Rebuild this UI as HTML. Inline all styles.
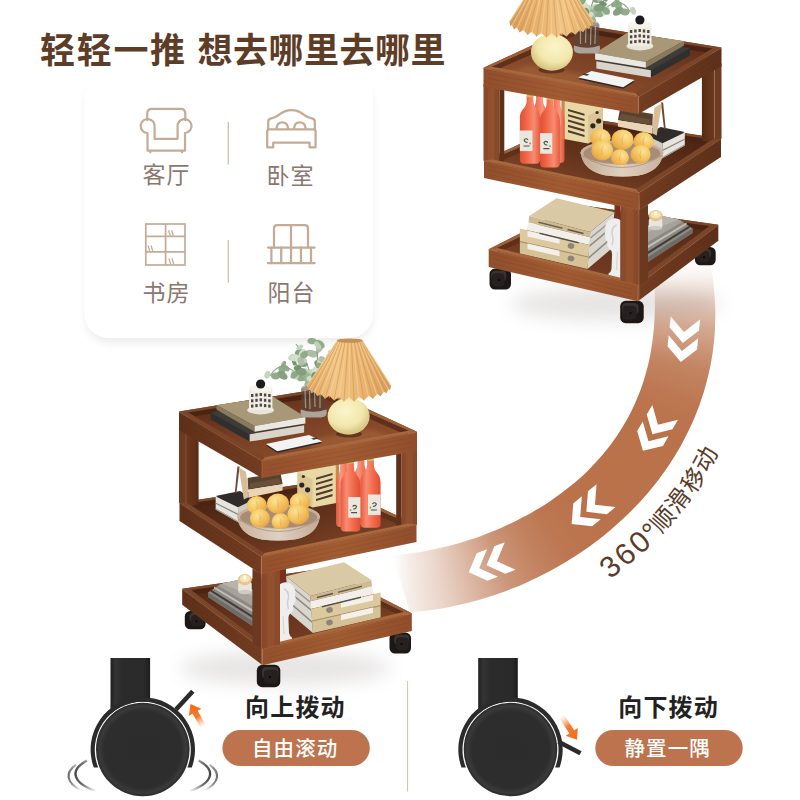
<!DOCTYPE html>
<html><head><meta charset="utf-8"><title>product</title>
<style>
html,body{margin:0;padding:0;background:#fff;font-family:"Liberation Sans",sans-serif;}
body{width:800px;height:800px;overflow:hidden;position:relative;}
#band{position:absolute;left:0;top:0;width:800px;height:800px;background:conic-gradient(from 0deg at 400px 300px, rgba(186,114,75,0) 0deg, rgba(186,114,75,0.000) 81.5deg, rgba(186,114,75,0.070) 85.0deg, rgba(186,114,75,0.200) 88.0deg, rgba(186,114,75,0.620) 95.4deg, rgba(186,114,75,0.870) 102.8deg, rgba(186,114,75,0.970) 110.1deg, rgba(186,114,75,1.000) 116.1deg, rgba(186,114,75,1.000) 139.2deg, rgba(186,114,75,0.970) 146.3deg, rgba(186,114,75,0.880) 152.7deg, rgba(186,114,75,0.750) 159.0deg, rgba(186,114,75,0.520) 165.5deg, rgba(186,114,75,0.300) 171.9deg, rgba(186,114,75,0.130) 178.0deg, rgba(186,114,75,0.000) 181.4deg, rgba(186,114,75,0) 360deg);clip-path:path('M653.2 258.1 C653.3 260.0 653.6 265.8 653.9 269.7 C654.1 273.5 654.3 277.4 654.4 281.2 C654.6 285.1 654.7 288.9 654.8 292.8 C654.9 296.6 654.9 300.5 654.9 304.3 C654.9 308.2 654.8 312.0 654.6 315.9 C654.4 319.7 654.2 323.6 653.9 327.4 C653.6 331.3 653.2 335.1 652.7 338.9 C652.2 342.8 651.7 346.6 651.0 350.4 C650.4 354.2 649.6 358.0 648.8 361.8 C647.9 365.6 647.0 369.3 645.9 373.0 C644.9 376.8 643.8 380.5 642.5 384.2 C641.3 387.8 640.0 391.5 638.5 395.1 C637.1 398.7 635.6 402.2 633.9 405.8 C632.3 409.3 630.6 412.7 628.8 416.2 C626.9 419.6 625.0 423.0 623.0 426.3 C621.0 429.6 618.9 432.8 616.8 436.0 C614.6 439.2 612.3 442.4 610.0 445.5 C607.7 448.5 605.3 451.5 602.8 454.5 C600.3 457.4 597.7 460.3 595.1 463.1 C592.5 465.9 589.8 468.7 587.1 471.4 C584.3 474.0 581.5 476.6 578.6 479.2 C575.8 481.7 572.8 484.2 569.9 486.6 C566.9 489.0 563.9 491.3 560.8 493.6 C557.8 495.8 554.7 498.0 551.5 500.2 C548.4 502.3 545.2 504.4 542.0 506.4 C538.8 508.4 535.5 510.3 532.3 512.2 C529.0 514.1 525.7 515.9 522.3 517.6 C519.0 519.4 515.6 521.1 512.2 522.7 C508.9 524.3 505.4 525.9 502.0 527.4 C498.5 529.0 495.1 530.4 491.6 531.8 C488.1 533.2 484.6 534.6 481.1 535.9 C477.5 537.2 474.0 538.4 470.4 539.6 C466.8 540.8 463.2 541.9 459.6 543.0 C455.9 544.0 452.3 545.0 448.6 546.0 C444.9 546.9 441.2 547.8 437.5 548.6 C433.8 549.4 430.1 550.2 426.3 550.9 C422.6 551.6 418.8 552.2 415.0 552.7 C411.2 553.2 407.4 553.7 403.5 554.0 C399.7 554.4 393.9 554.7 392.0 554.9 L410.0 612.0 C412.2 611.8 418.9 611.4 423.3 610.9 C427.8 610.4 432.2 609.9 436.6 609.2 C441.0 608.5 445.4 607.8 449.8 606.9 C454.1 606.1 458.5 605.2 462.8 604.1 C467.1 603.1 471.4 602.0 475.7 600.8 C480.0 599.7 484.2 598.4 488.5 597.0 C492.7 595.7 496.9 594.3 501.1 592.8 C505.2 591.3 509.4 589.7 513.5 588.0 C517.6 586.4 521.7 584.7 525.7 582.9 C529.8 581.1 533.8 579.2 537.8 577.3 C541.7 575.3 545.7 573.3 549.6 571.2 C553.5 569.1 557.4 566.9 561.2 564.7 C565.0 562.5 568.8 560.2 572.6 557.8 C576.3 555.4 580.0 553.0 583.7 550.5 C587.3 547.9 591.0 545.3 594.5 542.7 C598.1 540.0 601.6 537.3 605.1 534.5 C608.5 531.7 612.0 528.8 615.3 525.8 C618.7 522.9 622.0 519.9 625.2 516.8 C628.5 513.7 631.6 510.6 634.8 507.3 C637.9 504.1 640.9 500.8 643.9 497.4 C646.9 494.1 649.8 490.6 652.6 487.2 C655.5 483.7 658.2 480.1 660.9 476.5 C663.6 472.8 666.2 469.1 668.7 465.4 C671.2 461.6 673.7 457.8 676.0 454.0 C678.3 450.1 680.6 446.2 682.7 442.2 C684.9 438.2 687.0 434.2 688.9 430.1 C690.9 426.0 692.7 421.8 694.5 417.7 C696.3 413.5 697.9 409.2 699.5 405.0 C701.0 400.7 702.4 396.4 703.8 392.1 C705.1 387.7 706.3 383.3 707.4 378.9 C708.5 374.5 709.5 370.1 710.4 365.7 C711.3 361.2 712.0 356.7 712.7 352.2 C713.3 347.7 713.8 343.2 714.3 338.7 C714.7 334.2 714.9 329.7 715.1 325.2 C715.3 320.6 715.3 316.1 715.3 311.6 C715.2 307.1 715.0 302.6 714.7 298.1 C714.4 293.6 714.0 289.1 713.5 284.6 C713.0 280.1 712.4 275.7 711.6 271.3 C710.9 266.8 709.5 260.3 709.1 258.1 Z');}
svg{display:block;position:absolute;left:0;top:0;}
svg text{font-family:"Liberation Sans","Noto Sans CJK SC",sans-serif;}
.sr{position:absolute;left:0;top:0;width:1px;height:1px;overflow:hidden;opacity:0;font-size:1px;line-height:1px;color:transparent;}
</style></head><body>
<div id="band"></div>
<div class="sr">
<h1>轻轻一推 想去哪里去哪里</h1>
<ul><li>客厅</li><li>卧室</li><li>书房</li><li>阳台</li></ul>
<p>360°顺滑移动</p>
<p>向上拨动 — 自由滚动</p>
<p>向下拨动 — 静置一隅</p>
</div>
<svg width="800" height="800" viewBox="0 0 800 800">
<defs>
<filter id="cardsh" x="-20%" y="-20%" width="140%" height="140%"><feGaussianBlur stdDeviation="5"/></filter>
<linearGradient id="wfl" x1="0" y1="0" x2="1" y2="0"><stop offset="0" stop-color="#5e3019"/><stop offset="1" stop-color="#743d22"/></linearGradient>
<linearGradient id="wfr" x1="0" y1="0" x2="1" y2="0"><stop offset="0" stop-color="#94502c"/><stop offset="0.5" stop-color="#a15c33"/><stop offset="1" stop-color="#914e2c"/></linearGradient>
<linearGradient id="wfloor" x1="0" y1="0" x2="1" y2="1"><stop offset="0" stop-color="#512714"/><stop offset="0.45" stop-color="#7a4024"/><stop offset="1" stop-color="#9c5a33"/></linearGradient>
<linearGradient id="wfloorm" x1="0" y1="0" x2="1" y2="1"><stop offset="0" stop-color="#43200f"/><stop offset="0.5" stop-color="#63321b"/><stop offset="1" stop-color="#8a4f2e"/></linearGradient>
<linearGradient id="wfloor2" x1="0" y1="0" x2="1" y2="1"><stop offset="0" stop-color="#4f2814"/><stop offset="0.6" stop-color="#6d381f"/><stop offset="1" stop-color="#84492a"/></linearGradient>
<linearGradient id="wlegr" x1="0" y1="0" x2="1" y2="0"><stop offset="0" stop-color="#834528"/><stop offset="0.5" stop-color="#965430"/><stop offset="1" stop-color="#874829"/></linearGradient>
<linearGradient id="wlegl" x1="0" y1="0" x2="1" y2="0"><stop offset="0" stop-color="#6a381f"/><stop offset="0.6" stop-color="#633319"/><stop offset="1" stop-color="#562b15"/></linearGradient>
<linearGradient id="shade" x1="0" y1="0" x2="1" y2="0"><stop offset="0" stop-color="#e0a660"/><stop offset="0.35" stop-color="#f2c585"/><stop offset="0.7" stop-color="#e8b16c"/><stop offset="1" stop-color="#d39a56"/></linearGradient>
<radialGradient id="lampb" cx="0.42" cy="0.35" r="0.7"><stop offset="0" stop-color="#fbf5cc"/><stop offset="0.6" stop-color="#f2e7ab"/><stop offset="1" stop-color="#cfbb78"/></radialGradient>
<radialGradient id="fruit" cx="0.4" cy="0.35" r="0.75"><stop offset="0" stop-color="#fbe59a"/><stop offset="0.55" stop-color="#f5c65e"/><stop offset="1" stop-color="#e09a38"/></radialGradient>
<linearGradient id="bottle" x1="0" y1="0" x2="1" y2="0"><stop offset="0" stop-color="#e85a3c"/><stop offset="0.3" stop-color="#f88c72"/><stop offset="0.65" stop-color="#f2694a"/><stop offset="1" stop-color="#df4f33"/></linearGradient>
<linearGradient id="bowlg" x1="0" y1="0" x2="1" y2="0"><stop offset="0" stop-color="#c9b39e"/><stop offset="0.5" stop-color="#dfd0c0"/><stop offset="1" stop-color="#c3ab95"/></linearGradient>
<filter id="blur2" x="-30%" y="-30%" width="160%" height="160%"><feGaussianBlur stdDeviation="2"/></filter>
<filter id="blur4" x="-30%" y="-30%" width="160%" height="160%"><feGaussianBlur stdDeviation="4"/></filter>
<filter id="blur8" x="-50%" y="-50%" width="200%" height="200%"><feGaussianBlur stdDeviation="9"/></filter>
<g id="shelf">
<ellipse cx="285" cy="668" rx="105" ry="17" fill="#8a7f7a" opacity="0.2" filter="url(#blur8)"/>
<rect x="184.8" y="611.0" width="20.8" height="18.3" rx="5.5" fill="#1d1816"/>
<rect x="189.4" y="612.8" width="14.6" height="9.1" rx="4.0" fill="#3a3431"/>
<rect x="191.0" y="615.0" width="12.5" height="11.3" rx="4.0" fill="#262120"/>
<circle cx="196.4" cy="621.1" r="1.2" fill="#0c0a09"/>
<rect x="389.5" y="632.6" width="21.5" height="20.9" rx="5.5" fill="#1d1816"/>
<rect x="394.2" y="634.7" width="15.0" height="10.4" rx="4.0" fill="#3a3431"/>
<rect x="395.9" y="637.2" width="12.9" height="13.0" rx="4.0" fill="#262120"/>
<circle cx="401.5" cy="644.1" r="1.2" fill="#0c0a09"/>
<path d="M182.2 588.7 L324.0 568.5 L411.8 613.3 L262.4 648.6 Z" fill="#8a5131"/>
<path d="M182.2 588.7 L324.0 568.5 L321.1 571.9 L190.9 589.9 Z" fill="#7d4629"/>
<path d="M324.0 568.5 L411.8 613.3 L403.1 612.1 L321.1 571.9 Z" fill="#9c5f39"/>
<path d="M190.9 589.9 L321.1 571.9 L403.1 612.1 L265.2 645.2 Z" fill="#4a2413"/>
<path d="M321.1 571.9 L403.1 612.1 L403.1 617.1 L321.1 576.9 Z" fill="#5e301a"/>
<path d="M190.9 594.9 L321.1 576.9 L403.1 617.1 L265.2 650.2 Z" fill="url(#wfloor2)"/>
<path d="M219.5 584.5 L240.0 579.5 L252.5 590.0 L252.5 626.0 L208.0 597.0 L208.0 592.5 Z" fill="#8c8983"/>
<path d="M208.0 592.5 L252.5 621.0 L252.5 626.0 L208.0 597.0 Z" fill="#6f6c67"/>
<path d="M210.5 589.2 L252.5 615.5 L252.5 618.0 L210.5 591.5 Z" fill="#3f3e3c"/>
<path d="M214.0 586.5 L252.5 609.5 L252.5 612.0 L214.0 588.6 Z" fill="#c4bfb6"/>
<path d="M219.5 584.5 L240.0 579.5 L252.5 590.0 L252.5 606.0 L219.5 586.5 Z" fill="#a7a39b"/>
<path d="M222.0 583.6 L240.0 579.5 L252.5 590.0 L252.5 596.0 Z" fill="#b9b4aa"/>
<rect x="238.2" y="582" width="13.6" height="10.5" rx="2" fill="#e9e6e0"/>
<ellipse cx="245" cy="592" rx="6.8" ry="2.2" fill="#cfcac2"/>
<ellipse cx="244.8" cy="579.6" rx="7" ry="5.6" fill="#e8c58a"/>
<ellipse cx="244.8" cy="578.6" rx="5.2" ry="3.6" fill="#f7e2b4"/>
<ellipse cx="244.8" cy="577.6" rx="1.6" ry="2.4" fill="#fffbe8"/>
<path d="M280.0 556.0 L286.0 556.0 L286.0 588.0 L280.0 588.0 Z" fill="#7a2f1c"/>
<path d="M286.0 576.3 L310.3 596.0 L313.0 633.0 L290.0 613.5 Z" fill="#d9d6cf"/>
<path d="M286.0 581.5 L310.3 601.3 L310.3 603.0 L286.0 583.2 Z" fill="#9c978d"/>
<path d="M287.5 589.5 L311.0 609.0 L311.0 611.0 L287.5 591.5 Z" fill="#8f8a80"/>
<path d="M289.0 601.0 L312.0 621.0 L312.0 623.0 L289.0 603.0 Z" fill="#8f8a80"/>
<path d="M286.0 576.3 L344.0 562.2 L371.3 580.0 L310.3 596.0 Z" fill="#d9c9a5"/>
<path d="M310.3 596.0 L371.3 580.0 L372.0 586.5 L310.3 601.3 Z" fill="#cdbb94"/>
<path d="M310.3 601.3 L372.0 586.5 L374.0 594.0 L311.0 609.0 Z" fill="#f1efe8"/>
<path d="M311.0 609.0 L374.0 594.0 L380.6 592.5 L380.6 605.5 L312.0 621.0 Z" fill="#dcc9a0"/>
<path d="M312.0 621.0 L380.6 605.5 L380.6 617.5 L313.0 633.0 Z" fill="#d6c298"/>
<path d="M312.0 620.4 L380.6 605.0 L380.6 606.2 L312.0 621.6 Z" fill="#a8956c"/>
<path d="M341.0 602.3 L373.0 595.0 L373.0 600.5 L341.0 607.8 Z" fill="#f4f1ea"/>
<path d="M341.0 614.8 L373.0 607.5 L373.0 613.0 L341.0 620.3 Z" fill="#f4f1ea"/>
<ellipse cx="329.5" cy="610" rx="3.4" ry="2.8" fill="#8d8678" transform="rotate(-13 329.5 610)"/>
<ellipse cx="329.5" cy="622.5" rx="3.4" ry="2.8" fill="#8d8678" transform="rotate(-13 329.5 622.5)"/>
<path d="M317.0 596.8 L333.0 592.8 L333.0 594.2 L317.0 598.2 Z" fill="#5b5140"/>
<path d="M338.0 591.6 L362.0 585.6 L362.0 587.0 L338.0 593.0 Z" fill="#6b6150"/>
<path d="M322.0 606.0 L361.0 596.6 L361.0 598.0 L322.0 607.4 Z" fill="#55504a"/>
<path d="M280 584 Q286 580.5 291 584 Q296.5 588 295 595 Q297 601 293 606 Q294.5 611 290.5 613.5 Q288 615 288.5 620 L289 633 Q289.5 636 292 637.5 L292 641 L280 643.5 Z" fill="#eeeeee"/>
<path d="M284 589 Q289 591 288.5 598 Q286.5 603 288.5 609" stroke="#cfcfcf" stroke-width="1.4" fill="none"/>
<path d="M283 616 L284 634" stroke="#d6d6d6" stroke-width="1.2" fill="none"/>
<rect x="256.8" y="664.8" width="23.5" height="22.4" rx="5.5" fill="#1d1816"/>
<rect x="262.0" y="667.0" width="16.4" height="11.2" rx="4.0" fill="#3a3431"/>
<rect x="263.9" y="669.7" width="14.1" height="13.9" rx="4.0" fill="#262120"/>
<circle cx="270.0" cy="677.1" r="1.2" fill="#0c0a09"/>
<path d="M182.2 588.7 L190.9 589.9 L265.2 645.2 L262.4 648.6 Z" fill="#7a4528"/>
<path d="M262.4 648.6 L265.2 645.2 L403.1 612.1 L411.8 613.3 Z" fill="#a8683e"/>
<path d="M182.2 588.7 L262.4 648.6 L262.6 665.2 L182.2 604.8 Z" fill="url(#wfl)"/>
<path d="M262.4 648.6 L411.8 613.3 L411.8 631.0 L262.6 665.2 Z" fill="url(#wfr)"/>
<path d="M182.2 589.1 L262.4 649.0 L411.8 613.7" stroke="#b07a52" stroke-width="0.8" fill="none" opacity="0.45"/>
<path d="M262.4 648.6 L262.6 665.2" stroke="#b67a50" stroke-width="0.8" fill="none" opacity="0.6"/>
<path d="M268.5 653.6 L406.8 618.6" stroke="#5a2c15" stroke-width="0.9" opacity="0.13" fill="none"/>
<path d="M185.2 593.5 L259.5 653.6" stroke="#4a2410" stroke-width="0.9" opacity="0.13" fill="none"/>
<path d="M268.5 657.7 L406.8 623.0" stroke="#5a2c15" stroke-width="0.9" opacity="0.16" fill="none"/>
<path d="M185.2 597.6 L259.5 657.7" stroke="#4a2410" stroke-width="0.9" opacity="0.16" fill="none"/>
<path d="M268.6 661.9 L406.8 627.5" stroke="#5a2c15" stroke-width="0.9" opacity="0.12" fill="none"/>
<path d="M185.2 601.6 L259.6 661.9" stroke="#4a2410" stroke-width="0.9" opacity="0.12" fill="none"/>
<path d="M252.5 568.6 L261.6 573.7 L261.6 648.9 L252.5 643.0 Z" fill="#6b3820"/>
<path d="M261.6 573.7 L280.0 569.8 L280.0 644.6 L261.6 648.9 Z" fill="url(#wlegr)"/>
<path d="M261.0 574.2 L262.2 574.2 L262.2 665.2 L261.0 665.2 Z" fill="#b0724a" opacity="0.55"/>
<path d="M266.0 576.2 L266.0 644.6" stroke="#5a2c15" stroke-width="0.9" opacity="0.13"/>
<path d="M271.0 576.2 L271.0 644.6" stroke="#5a2c15" stroke-width="0.9" opacity="0.10"/>
<path d="M275.5 576.2 L275.5 644.6" stroke="#5a2c15" stroke-width="0.9" opacity="0.14"/>
<path d="M179.5 502.5 L323.0 481.0 L416.5 524.6 L261.5 556.4 Z" fill="#8a5131"/>
<path d="M179.5 502.5 L323.0 481.0 L320.1 484.4 L188.2 503.6 Z" fill="#7d4629"/>
<path d="M323.0 481.0 L416.5 524.6 L407.8 523.5 L320.1 484.4 Z" fill="#9c5f39"/>
<path d="M188.2 503.6 L320.1 484.4 L407.8 523.5 L264.4 553.0 Z" fill="#4a2413"/>
<path d="M320.1 484.4 L407.8 523.5 L407.8 528.5 L320.1 489.4 Z" fill="#5e301a"/>
<path d="M188.2 508.6 L320.1 489.4 L407.8 528.5 L264.4 558.0 Z" fill="url(#wfloorm)"/>
<path d="M215.7 496.0 L240.0 491.0 L254.0 499.5 L238.0 507.5 Z" fill="#2f2c29"/>
<path d="M215.7 496.6 L238.0 507.2 L238.4 522.6 L215.7 509.6 Z" fill="#e6e4df"/>
<path d="M215.7 502.4 L238.2 513.8 L238.2 515.2 L215.7 503.8 Z" fill="#8b8883"/>
<path d="M215.7 508.3 L238.4 521.2 L238.4 522.6 L215.7 509.6 Z" fill="#9a9792"/>
<path d="M238.0 507.2 L254.0 499.5 L254.0 512.0 L238.4 522.6 Z" fill="#cfccc6"/>
<path d="M237.4 466.6 L239.6 466.6 L236.4 493.4 L234.8 492.8 Z" fill="#6b4a32"/>
<path d="M238.7 467.3 L246.0 471.8 L248.3 497.3 L243.8 499.6 Z" fill="#d9bd97"/>
<path d="M246.0 471.8 L248.3 489.8 L248.3 497.3 Z" fill="#c9aa82"/>
<path d="M247.6 478.0 L280.4 472.5 L282.6 484.2 L248.3 489.8 Z" fill="#57422f"/>
<path d="M250.0 483.5 L279.0 478.0 L281.5 483.6 L250.0 488.6 Z" fill="#6a5038"/>
<path d="M248.3 489.8 L282.6 484.2 L282.6 490.6 L248.3 497.7 Z" fill="#ead5b6"/>
<path d="M297.5 472.0 L309.0 462.0 L339.0 464.0 L339.0 502.5 L312.5 507.5 L297.5 498.5 Z" fill="#ead7a6"/>
<path d="M297.5 472.0 L312.5 479.5 L312.5 507.5 L297.5 498.5 Z" fill="#dcc794"/>
<path d="M335.8 464.0 L339.0 464.0 L339.0 502.5 L335.8 503.2 Z" fill="#c58a4e"/>
<path d="M316.0 477.7 L332.5 472.9 L332.5 475.0 L316.0 479.8 Z" fill="#4a3b2c"/>
<path d="M316.0 483.0 L332.5 478.2 L332.5 480.3 L316.0 485.1 Z" fill="#4a3b2c"/>
<path d="M316.0 488.3 L332.5 483.5 L332.5 485.6 L316.0 490.4 Z" fill="#4a3b2c"/>
<path d="M316.0 493.6 L332.5 488.8 L332.5 490.9 L316.0 495.7 Z" fill="#4a3b2c"/>
<path d="M316.0 498.9 L332.5 494.1 L332.5 496.2 L316.0 501.0 Z" fill="#4a3b2c"/>
<circle cx="301.8" cy="485" r="2.6" fill="#2d2622"/><circle cx="307.6" cy="489.8" r="2.6" fill="#2d2622"/><circle cx="303.4" cy="476.5" r="1.6" fill="#3a302a"/>
<path d="M340.1 463.0 L346.9 463.0 L346.9 468.0 C347.4 477.0 351.0 475.0 351.0 486.0 L351.0 523.0 Q351.0 527.0 347.0 527.0 L340.0 527.0 Q336.0 527.0 336.0 523.0 L336.0 486.0 C336.0 475.0 339.6 477.0 340.1 468.0 Z" fill="url(#bottle)" opacity="0.90"/>
<path d="M357.6 458.5 L364.4 458.5 L364.4 463.5 C364.9 472.5 369.0 470.5 369.0 481.5 L369.0 520.5 Q369.0 524.5 365.0 524.5 L357.0 524.5 Q353.0 524.5 353.0 520.5 L353.0 481.5 C353.0 470.5 357.1 472.5 357.6 463.5 Z" fill="url(#bottle)" opacity="0.92"/>
<path d="M367.1 460.0 L373.9 460.0 L373.9 465.0 C374.4 474.0 380.6 472.0 380.6 483.0 L380.6 523.8 Q380.6 527.8 376.6 527.8 L364.4 527.8 Q360.4 527.8 360.4 523.8 L360.4 483.0 C360.4 472.0 366.6 474.0 367.1 465.0 Z" fill="url(#bottle)" opacity="1.00"/>
<rect x="368.0" y="494.5" width="12.6" height="20.6" fill="#eae8de"/>
<path d="M372.4 504.0 q2 -2.5 4 0 q-1 3 -3.4 2.2 M370.9 510.0 h6" stroke="#4d5148" stroke-width="1.1" fill="none"/>
<circle cx="370.4" cy="507.5" r="0.9" fill="#6da05e"/>
<path d="M347.1 462.6 L353.9 462.6 L353.9 467.6 C354.4 476.6 360.4 474.6 360.4 485.6 L360.4 527.5 Q360.4 531.5 356.4 531.5 L344.6 531.5 Q340.6 531.5 340.6 527.5 L340.6 485.6 C340.6 474.6 346.6 476.6 347.1 467.6 Z" fill="url(#bottle)" opacity="1.00"/>
<rect x="348.2" y="497.1" width="12.2" height="20.6" fill="#eae8de"/>
<path d="M352.6 506.6 q2 -2.5 4 0 q-1 3 -3.4 2.2 M351.1 512.6 h6" stroke="#4d5148" stroke-width="1.1" fill="none"/>
<circle cx="350.6" cy="510.1" r="0.9" fill="#6da05e"/>
<rect x="347.4" y="459.6" width="6.4" height="4.2" rx="1" fill="#cdb95a"/>
<rect x="367.3" y="457" width="6.4" height="4.2" rx="1" fill="#cdb95a"/>
<path d="M237.2 516.5 Q239 535 262 539.6 Q278.5 541.6 296 539.3 Q318 534 320 516 Z" fill="url(#bowlg)"/>
<ellipse cx="278.6" cy="516.6" rx="41.4" ry="12.4" fill="#c9b29c"/>
<ellipse cx="278.6" cy="517.4" rx="38.6" ry="10.6" fill="#a78d77"/>
<ellipse cx="256.9" cy="505.4" rx="10.0" ry="9.3" fill="url(#fruit)"/>
<ellipse cx="259.9" cy="506.9" rx="4.0" ry="4.5" fill="#e8863a" opacity="0.22" filter="url(#blur2)"/>
<path d="M255.9 500.9 q2.5 4.0 1.0 9.0" stroke="#c9822c" stroke-width="0.7" fill="none" opacity="0.4"/>
<ellipse cx="300.0" cy="502.3" rx="10.2" ry="9.5" fill="url(#fruit)"/>
<ellipse cx="303.1" cy="503.8" rx="4.1" ry="4.6" fill="#e8863a" opacity="0.22" filter="url(#blur2)"/>
<path d="M299.0 497.7 q2.5 4.1 1.0 9.2" stroke="#c9822c" stroke-width="0.7" fill="none" opacity="0.4"/>
<ellipse cx="278.0" cy="503.7" rx="11.0" ry="10.2" fill="url(#fruit)"/>
<ellipse cx="281.3" cy="505.3" rx="4.4" ry="5.0" fill="#e8863a" opacity="0.22" filter="url(#blur2)"/>
<path d="M276.9 498.8 q2.8 4.4 1.1 9.9" stroke="#c9822c" stroke-width="0.7" fill="none" opacity="0.4"/>
<ellipse cx="298.3" cy="514.4" rx="10.8" ry="10.0" fill="url(#fruit)"/>
<ellipse cx="301.5" cy="516.0" rx="4.3" ry="4.9" fill="#e8863a" opacity="0.22" filter="url(#blur2)"/>
<path d="M297.2 509.5 q2.7 4.3 1.1 9.7" stroke="#c9822c" stroke-width="0.7" fill="none" opacity="0.4"/>
<ellipse cx="260.0" cy="518.4" rx="10.0" ry="9.3" fill="url(#fruit)"/>
<ellipse cx="263.0" cy="519.9" rx="4.0" ry="4.5" fill="#e8863a" opacity="0.22" filter="url(#blur2)"/>
<path d="M259.0 513.9 q2.5 4.0 1.0 9.0" stroke="#c9822c" stroke-width="0.7" fill="none" opacity="0.4"/>
<ellipse cx="280.6" cy="521.6" rx="9.0" ry="8.4" fill="url(#fruit)"/>
<ellipse cx="283.3" cy="523.0" rx="3.6" ry="4.0" fill="#e8863a" opacity="0.22" filter="url(#blur2)"/>
<path d="M279.7 517.6 q2.2 3.6 0.9 8.1" stroke="#c9822c" stroke-width="0.7" fill="none" opacity="0.4"/>
<path d="M237.2 516.5 A41.4 12.4 0 0 0 320 516.5 L320 518 Q300 532 278.6 532 Q257 532 237.2 518 Z" fill="url(#bowlg)"/>
<path d="M238 518.5 Q240 535 262 539.6 Q278.5 541.6 296 539.3 Q317 534.5 319.4 518.5 Q300 531 278.6 531 Q257 531 238 518.5 Z" fill="url(#bowlg)"/>
<path d="M238.4 519.2 Q257 531.5 278.6 531.5 Q300 531.5 319 519.2" stroke="#9c8470" stroke-width="0.9" fill="none" opacity="0.7"/>
<path d="M179.0 427.2 L186.0 431.2 L186.0 506.8 L179.0 502.7 Z" fill="#6d3b22"/>
<path d="M186.0 431.2 L198.6 440.2 L198.6 504.7 L186.0 506.8 Z" fill="url(#wlegl)"/>
<path d="M186 432.2 L186 506.5" stroke="#b0724a" stroke-width="0.8" opacity="0.5"/>
<path d="M396.2 445.0 L401.2 448.0 L401.2 527.7 L396.2 525.0 Z" fill="#5e3019"/>
<path d="M401.2 448.0 L417.0 448.0 L417.0 524.8 L401.2 527.7 Z" fill="url(#wlegr)"/>
<path d="M405.0 452.0 L405.0 525.6" stroke="#5a2c15" stroke-width="0.9" opacity="0.13"/>
<path d="M409.5 452.0 L409.5 525.6" stroke="#5a2c15" stroke-width="0.9" opacity="0.10"/>
<path d="M413.5 452.0 L413.5 525.6" stroke="#5a2c15" stroke-width="0.9" opacity="0.13"/>
<path d="M189.5 438.2 L189.5 505.5" stroke="#5a2c15" stroke-width="0.9" opacity="0.13"/>
<path d="M193.5 438.2 L193.5 505.5" stroke="#5a2c15" stroke-width="0.9" opacity="0.10"/>
<path d="M179.5 502.5 L188.2 503.6 L264.4 553.0 L261.5 556.4 Z" fill="#7a4528"/>
<path d="M261.5 556.4 L264.4 553.0 L407.8 523.5 L416.5 524.6 Z" fill="#a8683e"/>
<path d="M179.5 502.5 L261.5 556.4 L261.3 574.2 L179.5 521.0 Z" fill="url(#wfl)"/>
<path d="M261.5 556.4 L416.5 524.6 L416.5 542.0 L261.3 574.2 Z" fill="url(#wfr)"/>
<path d="M179.5 502.9 L261.5 556.8 L416.5 525.0" stroke="#b07a52" stroke-width="0.8" fill="none" opacity="0.45"/>
<path d="M261.5 556.4 L261.3 574.2" stroke="#b67a50" stroke-width="0.8" fill="none" opacity="0.6"/>
<path d="M267.4 561.7 L411.5 529.8" stroke="#5a2c15" stroke-width="0.9" opacity="0.13" fill="none"/>
<path d="M182.5 508.1 L258.4 561.7" stroke="#4a2410" stroke-width="0.9" opacity="0.13" fill="none"/>
<path d="M267.4 566.2 L411.5 534.2" stroke="#5a2c15" stroke-width="0.9" opacity="0.16" fill="none"/>
<path d="M182.5 512.7 L258.4 566.2" stroke="#4a2410" stroke-width="0.9" opacity="0.16" fill="none"/>
<path d="M267.3 570.6 L411.5 538.5" stroke="#5a2c15" stroke-width="0.9" opacity="0.12" fill="none"/>
<path d="M182.5 517.3 L258.3 570.6" stroke="#4a2410" stroke-width="0.9" opacity="0.12" fill="none"/>
<path d="M179.0 411.5 L323.0 388.3 L417.0 431.8 L262.0 460.6 Z" fill="#8a5131"/>
<path d="M179.0 411.5 L323.0 388.3 L320.1 391.7 L187.8 412.6 Z" fill="#7d4629"/>
<path d="M323.0 388.3 L417.0 431.8 L408.2 430.7 L320.1 391.7 Z" fill="#9c5f39"/>
<path d="M187.8 412.6 L320.1 391.7 L408.2 430.7 L264.9 457.2 Z" fill="#4a2413"/>
<path d="M320.1 391.7 L408.2 430.7 L408.2 435.7 L320.1 396.7 Z" fill="#5e301a"/>
<path d="M187.8 417.6 L320.1 396.7 L408.2 435.7 L264.9 462.2 Z" fill="url(#wfloor)"/>
<path d="M300.0 441.0 L372.0 429.0 L392.0 438.0 L322.0 451.0 Z" fill="#b06e42" opacity="0.4" filter="url(#blur2)"/>
<path d="M210.7 412.6 L262.0 401.5 L304.1 425.2 L249.7 434.2 Z" fill="#3c3c3b"/>
<path d="M210.7 412.6 L249.7 434.2 L249.7 441.6 L210.7 419.6 Z" fill="#2f2f2f"/>
<path d="M249.7 434.2 L304.1 425.2 L304.1 432.6 L249.7 441.6 Z" fill="#d9d5ca"/>
<path d="M216.4 405.0 L273.2 396.8 L305.4 417.1 L254.6 426.1 Z" fill="#a99878"/>
<path d="M216.4 405.0 L254.6 426.1 L254.6 431.8 L216.4 409.4 Z" fill="#8a7a5b"/>
<path d="M254.6 426.1 L305.4 417.1 L305.4 423.4 L254.6 431.8 Z" fill="#ebe8df"/>
<ellipse cx="260.6" cy="410" rx="13.4" ry="4.4" fill="#e9e4da"/>
<rect x="249" y="388.5" width="23.4" height="21.5" fill="#f1ede4"/>
<ellipse cx="260.7" cy="388.5" rx="11.7" ry="3.4" fill="#f7f4ec"/>
<rect x="251.0" y="394.0" width="2.4" height="3" fill="#4b4742"/>
<rect x="255.3" y="393.5" width="2.4" height="3" fill="#4b4742"/>
<rect x="259.6" y="393.0" width="2.4" height="3" fill="#4b4742"/>
<rect x="263.9" y="393.5" width="2.4" height="3" fill="#4b4742"/>
<rect x="268.2" y="394.0" width="2.4" height="3" fill="#4b4742"/>
<rect x="251.0" y="399.3" width="2.4" height="3" fill="#4b4742"/>
<rect x="255.3" y="398.8" width="2.4" height="3" fill="#4b4742"/>
<rect x="259.6" y="398.3" width="2.4" height="3" fill="#4b4742"/>
<rect x="263.9" y="398.8" width="2.4" height="3" fill="#4b4742"/>
<rect x="268.2" y="399.3" width="2.4" height="3" fill="#4b4742"/>
<rect x="251.0" y="404.6" width="2.4" height="3" fill="#4b4742"/>
<rect x="255.3" y="404.1" width="2.4" height="3" fill="#4b4742"/>
<rect x="259.6" y="403.6" width="2.4" height="3" fill="#4b4742"/>
<rect x="263.9" y="404.1" width="2.4" height="3" fill="#4b4742"/>
<rect x="268.2" y="404.6" width="2.4" height="3" fill="#4b4742"/>
<circle cx="260.6" cy="384" r="4.6" fill="#1b1b1b"/>
<path d="M265.9 445.4 L309.0 436.5 L322.3 443.0 L277.3 452.8 Z" fill="#2a2726"/>
<path d="M265.9 443.9 L309.0 435.0 L322.3 441.5 L277.3 451.2 Z" fill="#f3f3f4"/>
<path d="M311.0 438.5 L316.5 437.4 L319.0 438.6 L313.5 439.8 Z" fill="#3a3a3c"/>
<path d="M313 390 Q300 372 284 366 Q276 366 270 376 M313 390 Q310 362 296 344 M314 390 Q320 362 316 340 M314 390 Q326 372 332 352 M306 372 Q296 366 290 356" stroke="#8fa287" stroke-width="1.2" fill="none"/>
<ellipse cx="309.2" cy="382.9" rx="5.5" ry="3.4" fill="#9db394" opacity="0.95" transform="rotate(-33 309.2 382.9)"/>
<ellipse cx="309.4" cy="379.6" rx="3.8" ry="2.3" fill="#9db394" opacity="0.95" transform="rotate(22 309.4 379.6)"/>
<ellipse cx="301.7" cy="378.0" rx="5.0" ry="3.2" fill="#8aa883" opacity="0.95" transform="rotate(-7 301.7 378.0)"/>
<ellipse cx="294.8" cy="374.8" rx="4.8" ry="3.3" fill="#c3d2bb" opacity="0.95" transform="rotate(59 294.8 374.8)"/>
<ellipse cx="294.8" cy="374.5" rx="5.1" ry="3.2" fill="#8aa883" opacity="0.95" transform="rotate(-43 294.8 374.5)"/>
<ellipse cx="285.9" cy="368.0" rx="4.2" ry="2.5" fill="#8aa883" opacity="0.95" transform="rotate(38 285.9 368.0)"/>
<ellipse cx="281.9" cy="369.5" rx="4.1" ry="3.2" fill="#8aa883" opacity="0.95" transform="rotate(61 281.9 369.5)"/>
<ellipse cx="283.5" cy="364.4" rx="3.8" ry="2.1" fill="#8aa883" opacity="0.95" transform="rotate(-63 283.5 364.4)"/>
<ellipse cx="282.3" cy="375.3" rx="5.9" ry="3.6" fill="#7f9c78" opacity="0.95" transform="rotate(33 282.3 375.3)"/>
<ellipse cx="275.6" cy="376.0" rx="4.6" ry="3.6" fill="#8aa883" opacity="0.95" transform="rotate(-1 275.6 376.0)"/>
<ellipse cx="267.4" cy="374.7" rx="4.0" ry="2.9" fill="#c3d2bb" opacity="0.95" transform="rotate(-69 267.4 374.7)"/>
<ellipse cx="311.2" cy="377.8" rx="4.8" ry="3.4" fill="#9db394" opacity="0.95" transform="rotate(19 311.2 377.8)"/>
<ellipse cx="306.4" cy="374.8" rx="4.3" ry="3.3" fill="#9db394" opacity="0.95" transform="rotate(-47 306.4 374.8)"/>
<ellipse cx="303.1" cy="372.2" rx="3.8" ry="2.5" fill="#9db394" opacity="0.95" transform="rotate(-40 303.1 372.2)"/>
<ellipse cx="305.1" cy="370.7" rx="4.0" ry="2.6" fill="#c3d2bb" opacity="0.95" transform="rotate(12 305.1 370.7)"/>
<ellipse cx="304.0" cy="364.7" rx="3.8" ry="2.2" fill="#7f9c78" opacity="0.95" transform="rotate(-8 304.0 364.7)"/>
<ellipse cx="302.0" cy="360.4" rx="5.2" ry="3.7" fill="#c3d2bb" opacity="0.95" transform="rotate(14 302.0 360.4)"/>
<ellipse cx="299.9" cy="352.9" rx="5.0" ry="3.9" fill="#7f9c78" opacity="0.95" transform="rotate(-4 299.9 352.9)"/>
<ellipse cx="303.0" cy="354.2" rx="5.3" ry="4.2" fill="#d3dfcc" opacity="0.95" transform="rotate(-77 303.0 354.2)"/>
<ellipse cx="299.8" cy="347.4" rx="3.8" ry="2.1" fill="#c3d2bb" opacity="0.95" transform="rotate(-30 299.8 347.4)"/>
<ellipse cx="312.5" cy="378.8" rx="6.0" ry="3.4" fill="#d3dfcc" opacity="0.95" transform="rotate(7 312.5 378.8)"/>
<ellipse cx="312.5" cy="372.4" rx="3.7" ry="2.9" fill="#c3d2bb" opacity="0.95" transform="rotate(38 312.5 372.4)"/>
<ellipse cx="317.0" cy="369.9" rx="5.5" ry="4.3" fill="#d3dfcc" opacity="0.95" transform="rotate(-24 317.0 369.9)"/>
<ellipse cx="317.9" cy="364.7" rx="4.7" ry="2.7" fill="#6f9069" opacity="0.95" transform="rotate(57 317.9 364.7)"/>
<ellipse cx="319.1" cy="363.3" rx="3.7" ry="2.5" fill="#d3dfcc" opacity="0.95" transform="rotate(-78 319.1 363.3)"/>
<ellipse cx="310.7" cy="353.1" rx="4.5" ry="3.1" fill="#9db394" opacity="0.95" transform="rotate(17 310.7 353.1)"/>
<ellipse cx="319.2" cy="350.0" rx="3.8" ry="2.2" fill="#aebfa5" opacity="0.95" transform="rotate(-39 319.2 350.0)"/>
<ellipse cx="320.0" cy="344.3" rx="5.3" ry="3.5" fill="#8aa883" opacity="0.95" transform="rotate(38 320.0 344.3)"/>
<ellipse cx="312.1" cy="341.1" rx="4.7" ry="3.1" fill="#8aa883" opacity="0.95" transform="rotate(7 312.1 341.1)"/>
<ellipse cx="318.0" cy="379.4" rx="5.4" ry="3.0" fill="#aebfa5" opacity="0.95" transform="rotate(16 318.0 379.4)"/>
<ellipse cx="314.4" cy="375.3" rx="3.7" ry="2.9" fill="#6f9069" opacity="0.95" transform="rotate(-62 314.4 375.3)"/>
<ellipse cx="324.9" cy="374.2" rx="5.1" ry="4.0" fill="#9db394" opacity="0.95" transform="rotate(-39 324.9 374.2)"/>
<ellipse cx="319.8" cy="365.5" rx="4.5" ry="2.6" fill="#8aa883" opacity="0.95" transform="rotate(18 319.8 365.5)"/>
<ellipse cx="322.2" cy="359.5" rx="4.0" ry="3.1" fill="#aebfa5" opacity="0.95" transform="rotate(26 322.2 359.5)"/>
<ellipse cx="331.1" cy="355.8" rx="4.8" ry="2.9" fill="#7f9c78" opacity="0.95" transform="rotate(-15 331.1 355.8)"/>
<ellipse cx="331.5" cy="353.4" rx="4.1" ry="2.7" fill="#c3d2bb" opacity="0.95" transform="rotate(49 331.5 353.4)"/>
<ellipse cx="301.3" cy="371.7" rx="5.7" ry="3.7" fill="#7f9c78" opacity="0.95" transform="rotate(13 301.3 371.7)"/>
<ellipse cx="297.6" cy="367.4" rx="4.1" ry="2.4" fill="#6f9069" opacity="0.95" transform="rotate(-24 297.6 367.4)"/>
<ellipse cx="294.2" cy="362.0" rx="3.7" ry="2.1" fill="#6f9069" opacity="0.95" transform="rotate(77 294.2 362.0)"/>
<ellipse cx="291.9" cy="357.2" rx="4.0" ry="2.7" fill="#c3d2bb" opacity="0.95" transform="rotate(-36 291.9 357.2)"/>
<ellipse cx="295.5" cy="357.9" rx="5.6" ry="3.6" fill="#d3dfcc" opacity="0.95" transform="rotate(3 295.5 357.9)"/>
<ellipse cx="300.9" cy="361.4" rx="4.4" ry="3.3" fill="#aebfa5" opacity="0.95" transform="rotate(77 300.9 361.4)"/>
<ellipse cx="304.4" cy="354.7" rx="4.4" ry="3.3" fill="#8aa883" opacity="0.95" transform="rotate(-36 304.4 354.7)"/>
<ellipse cx="314.6" cy="353.9" rx="3.7" ry="2.7" fill="#7f9c78" opacity="0.95" transform="rotate(11 314.6 353.9)"/>
<ellipse cx="312.2" cy="353.8" rx="5.2" ry="3.6" fill="#aebfa5" opacity="0.95" transform="rotate(23 312.2 353.8)"/>
<ellipse cx="317.7" cy="345.2" rx="4.7" ry="2.6" fill="#c3d2bb" opacity="0.95" transform="rotate(53 317.7 345.2)"/>
<path d="M301.5 392 Q300 388 303 386.5 L323.5 386.5 Q326.8 388 326 392 L326.8 413 Q326.4 417 321 417.5 L306 417.5 Q300.6 417 300.5 413 Z" fill="#5a4538" opacity="0.62"/>
<path d="M300.8 409.5 Q313 414 326.5 409.5 L326.8 413 Q326.4 417 321 417.5 L306 417.5 Q300.6 417 300.5 413 Z" fill="#b9b5ab" opacity="0.85"/>
<path d="M305 390 L305.6 408 M309.5 391 L310 409 M314.5 389 L315 407 M320 390 L320 408" stroke="#cfc9bf" stroke-width="1.2" opacity="0.6" fill="none"/>
<ellipse cx="313.3" cy="387" rx="11.5" ry="1.6" fill="none" stroke="#b9b2a8" stroke-width="0.8" opacity="0.7"/>
<ellipse cx="349" cy="434" rx="13" ry="3.4" fill="#3a1c0e" opacity="0.55"/>
<ellipse cx="348.6" cy="416.3" rx="21" ry="18.4" fill="url(#lampb)"/>
<path d="M337.0 340.6 L362.6 340.6 L391.3 386.0 L391.0 386.3 L390.1 389.7 L388.6 389.0 L386.5 393.2 L383.8 391.6 L380.7 396.3 L377.1 394.0 L373.0 398.8 L368.7 395.8 L364.0 400.5 L359.1 396.9 L354.1 401.4 L349.0 397.3 L343.9 401.4 L338.9 396.9 L334.0 400.5 L329.3 395.8 L325.0 398.8 L320.9 394.0 L317.3 396.3 L314.2 391.6 L311.5 393.2 L309.4 389.0 L307.9 389.7 L307.0 386.3 L306.7 386.0 Z" fill="url(#shade)"/>
<path d="M362.3 341 L391.0 385.9" stroke="#f7d6a2" stroke-width="1.3" opacity="0.55" fill="none"/>
<path d="M362.0 341 L390.1 389.7" stroke="#c98f4f" stroke-width="1.0" opacity="0.55" fill="none"/>
<path d="M361.6 341 L388.6 389.5" stroke="#f7d6a2" stroke-width="1.3" opacity="0.55" fill="none"/>
<path d="M361.0 341 L386.5 393.2" stroke="#c98f4f" stroke-width="1.0" opacity="0.55" fill="none"/>
<path d="M360.2 341 L383.8 392.8" stroke="#f7d6a2" stroke-width="1.3" opacity="0.55" fill="none"/>
<path d="M359.2 341 L380.7 396.3" stroke="#c98f4f" stroke-width="1.0" opacity="0.55" fill="none"/>
<path d="M358.2 341 L377.1 395.6" stroke="#f7d6a2" stroke-width="1.3" opacity="0.55" fill="none"/>
<path d="M357.0 341 L373.0 398.8" stroke="#c98f4f" stroke-width="1.0" opacity="0.55" fill="none"/>
<path d="M355.7 341 L368.7 397.7" stroke="#f7d6a2" stroke-width="1.3" opacity="0.55" fill="none"/>
<path d="M354.3 341 L364.0 400.5" stroke="#c98f4f" stroke-width="1.0" opacity="0.55" fill="none"/>
<path d="M352.8 341 L359.1 399.0" stroke="#f7d6a2" stroke-width="1.3" opacity="0.55" fill="none"/>
<path d="M351.3 341 L354.1 401.4" stroke="#c98f4f" stroke-width="1.0" opacity="0.55" fill="none"/>
<path d="M349.8 341 L349.0 399.5" stroke="#f7d6a2" stroke-width="1.3" opacity="0.55" fill="none"/>
<path d="M348.3 341 L343.9 401.4" stroke="#c98f4f" stroke-width="1.0" opacity="0.55" fill="none"/>
<path d="M346.8 341 L338.9 399.0" stroke="#f7d6a2" stroke-width="1.3" opacity="0.55" fill="none"/>
<path d="M345.3 341 L334.0 400.5" stroke="#c98f4f" stroke-width="1.0" opacity="0.55" fill="none"/>
<path d="M343.9 341 L329.3 397.7" stroke="#f7d6a2" stroke-width="1.3" opacity="0.55" fill="none"/>
<path d="M342.6 341 L325.0 398.8" stroke="#c98f4f" stroke-width="1.0" opacity="0.55" fill="none"/>
<path d="M341.4 341 L320.9 395.6" stroke="#f7d6a2" stroke-width="1.3" opacity="0.55" fill="none"/>
<path d="M340.4 341 L317.3 396.3" stroke="#c98f4f" stroke-width="1.0" opacity="0.55" fill="none"/>
<path d="M339.4 341 L314.2 392.8" stroke="#f7d6a2" stroke-width="1.3" opacity="0.55" fill="none"/>
<path d="M338.6 341 L311.5 393.2" stroke="#c98f4f" stroke-width="1.0" opacity="0.55" fill="none"/>
<path d="M338.0 341 L309.4 389.5" stroke="#f7d6a2" stroke-width="1.3" opacity="0.55" fill="none"/>
<path d="M337.6 341 L307.9 389.7" stroke="#c98f4f" stroke-width="1.0" opacity="0.55" fill="none"/>
<path d="M337.3 341 L307.0 385.9" stroke="#f7d6a2" stroke-width="1.3" opacity="0.55" fill="none"/>
<ellipse cx="349.8" cy="340.6" rx="12.8" ry="2.2" fill="#c88f50"/>
<path d="M179.0 411.5 L187.8 412.6 L264.9 457.2 L262.0 460.6 Z" fill="#7a4528"/>
<path d="M262.0 460.6 L264.9 457.2 L408.2 430.7 L417.0 431.8 Z" fill="#a8683e"/>
<path d="M179.0 411.5 L262.0 460.6 L262.0 478.0 L179.0 430.2 Z" fill="url(#wfl)"/>
<path d="M262.0 460.6 L417.0 431.8 L417.0 451.0 L262.0 478.0 Z" fill="url(#wfr)"/>
<path d="M179.0 411.9 L262.0 461.0 L417.0 432.2" stroke="#b07a52" stroke-width="0.8" fill="none" opacity="0.45"/>
<path d="M262.0 460.6 L262.0 478.0" stroke="#b67a50" stroke-width="0.8" fill="none" opacity="0.6"/>
<path d="M268.0 465.8 L412.0 437.6" stroke="#5a2c15" stroke-width="0.9" opacity="0.13" fill="none"/>
<path d="M182.0 417.1 L259.0 465.8" stroke="#4a2410" stroke-width="0.9" opacity="0.13" fill="none"/>
<path d="M268.0 470.2 L412.0 442.4" stroke="#5a2c15" stroke-width="0.9" opacity="0.16" fill="none"/>
<path d="M182.0 421.8 L259.0 470.2" stroke="#4a2410" stroke-width="0.9" opacity="0.16" fill="none"/>
<path d="M268.0 474.5 L412.0 447.2" stroke="#5a2c15" stroke-width="0.9" opacity="0.12" fill="none"/>
<path d="M182.0 426.5 L259.0 474.5" stroke="#4a2410" stroke-width="0.9" opacity="0.12" fill="none"/>
</g>
<radialGradient id="wheelg" cx="0.5" cy="0.5" r="0.5"><stop offset="0" stop-color="#2c2c2c"/><stop offset="0.82" stop-color="#2d2d2d"/><stop offset="0.93" stop-color="#3a3a3a"/><stop offset="1" stop-color="#2a2a2a"/></radialGradient>
<linearGradient id="stemg" x1="0" x2="1" y1="0" y2="0"><stop offset="0" stop-color="#1f1f1f"/><stop offset="0.12" stop-color="#343434"/><stop offset="0.3" stop-color="#2b2b2b"/><stop offset="0.85" stop-color="#2a2a2a"/><stop offset="1" stop-color="#1d1d1d"/></linearGradient>
<linearGradient id="arr1" gradientUnits="userSpaceOnUse" x1="190.5" y1="704" x2="203.5" y2="727"><stop offset="0" stop-color="#f26a1b"/><stop offset="0.55" stop-color="#f47a2c"/><stop offset="1" stop-color="#f9a66a" stop-opacity="0"/></linearGradient>
<linearGradient id="arr2" gradientUnits="userSpaceOnUse" x1="577" y1="739.5" x2="561.5" y2="716"><stop offset="0" stop-color="#f26a1b"/><stop offset="0.55" stop-color="#f47a2c"/><stop offset="1" stop-color="#f9a66a" stop-opacity="0"/></linearGradient>
<linearGradient id="mot" x1="0" x2="0" y1="0" y2="1"><stop offset="0" stop-color="#444" stop-opacity="0.9"/><stop offset="1" stop-color="#444" stop-opacity="0"/></linearGradient>
<radialGradient id="mg0l" gradientUnits="userSpaceOnUse" cx="75.5" cy="774.0" r="27.0"><stop offset="0" stop-color="#3a3a3a" stop-opacity="0.95"/><stop offset="0.45" stop-color="#3a3a3a" stop-opacity="0.76"/><stop offset="1" stop-color="#3a3a3a" stop-opacity="0"/></radialGradient>
<radialGradient id="mg1l" gradientUnits="userSpaceOnUse" cx="68.5" cy="776.0" r="19.0"><stop offset="0" stop-color="#3a3a3a" stop-opacity="0.75"/><stop offset="0.45" stop-color="#3a3a3a" stop-opacity="0.60"/><stop offset="1" stop-color="#3a3a3a" stop-opacity="0"/></radialGradient>
<radialGradient id="mg0r" gradientUnits="userSpaceOnUse" cx="210.1" cy="774.0" r="27.0"><stop offset="0" stop-color="#3a3a3a" stop-opacity="0.95"/><stop offset="0.45" stop-color="#3a3a3a" stop-opacity="0.76"/><stop offset="1" stop-color="#3a3a3a" stop-opacity="0"/></radialGradient>
<radialGradient id="mg1r" gradientUnits="userSpaceOnUse" cx="217.1" cy="776.0" r="19.0"><stop offset="0" stop-color="#3a3a3a" stop-opacity="0.75"/><stop offset="0.45" stop-color="#3a3a3a" stop-opacity="0.60"/><stop offset="1" stop-color="#3a3a3a" stop-opacity="0"/></radialGradient>
</defs>
<text x="40" y="62.5" font-size="35" font-weight="bold" letter-spacing="1.7" fill="#5e3d27">轻轻一推</text>
<text x="197.5" y="62.5" font-size="35" font-weight="bold" letter-spacing="0.5" fill="#5e3d27">想去哪里去哪里</text>
<rect x="86" y="80" width="286" height="263" rx="24" fill="#000" opacity="0.075" filter="url(#cardsh)"/>
<rect x="84.5" y="72.5" width="288.5" height="265.5" rx="24" fill="#ffffff"/>
<rect x="227.7" y="122" width="1.1" height="42.5" fill="#cdb09a"/>
<rect x="227.7" y="240" width="1.1" height="42.5" fill="#cdb09a"/>
<g fill="none" stroke="#c5ab95" stroke-width="2.2" stroke-linejoin="round" stroke-linecap="round">
<path d="M147.2 120.2 V113.5 Q147.2 108.8 152 108.8 H180.5 Q185.3 108.8 185.3 113.5 V120.2"/>
<path d="M154.6 127 V138.8 H177.6 V127 A7 7 0 1 1 185 133 V150.6 H147.5 V133 A7 7 0 1 1 154.6 127 Z"/>
<path d="M150.3 150.8 V152.3 M182 150.8 V152.3"/>
</g>
<g fill="none" stroke="#c5ab95" stroke-width="2.25" stroke-linejoin="round" stroke-linecap="round">
<path d="M268.2 129 V121.5 Q268.2 119.3 270.5 118.6 Q275 117.5 278.5 115.2 Q284.5 110.2 291.5 110.2 Q298.5 110.2 304.5 115.2 Q308 117.5 312.5 118.6 Q314.8 119.3 314.8 121.5 V129"/>
<path d="M276.5 128.5 Q277 122.3 282.2 122.3 Q287.5 122.3 288.2 128.5"/>
<path d="M294 128.5 Q294.5 122.3 299.8 122.3 Q305 122.3 305.7 128.5"/>
<path d="M269.5 129.3 H313.5 Q315.6 129.3 315.6 131.5 V147.3 H309.6 V142.5 H273.2 V147.3 H267.2 V131.5 Q267.2 129.3 269.5 129.3 Z"/>
</g>
<g fill="none" stroke="#c5ab95" stroke-width="1.7" stroke-linecap="butt">
<rect x="145.8" y="224" width="39.2" height="41"/>
<path d="M165.6 224 V265 M145.8 236.4 H185 M145.8 251.8 H185"/>
<path d="M168.6 230.2 L170.3 236 M171.6 230.2 L173.3 236"  stroke-width="1.3"/>
<path d="M148 245.4 L149.8 251.4 M151 245.4 L152.8 251.4"  stroke-width="1.3"/>
<path d="M169 258.4 L170.7 264.4 M172 258.4 L173.7 264.4"  stroke-width="1.3"/>
</g>
<g fill="none" stroke="#c5ab95" stroke-width="2.25" stroke-linecap="round" stroke-linejoin="round">
<path d="M274 247.5 V228.5 Q274 225.2 277.3 225.2 H304.7 Q308 225.2 308 228.5 V247.5"/>
<path d="M291 225.2 V263"/>
<path d="M268 247.6 H314.6 M268 263.2 H314.6"/>
<path d="M271.4 247.6 V263.2 M281.2 247.6 V263.2 M301 247.6 V263.2 M311 247.6 V263.2"/>
</g>
<text x="142.5" y="183" font-size="23" letter-spacing="1" fill="#8a7870">客厅</text>
<text x="266.5" y="183.5" font-size="23" letter-spacing="1" fill="#8a7870">卧室</text>
<text x="142.5" y="300.8" font-size="23" letter-spacing="1" fill="#8a7870">书房</text>
<text x="267.5" y="301.3" font-size="23" letter-spacing="1" fill="#8a7870">阳台</text>
<path d="M-14 -22 L0 -8.5 L14 -22 L14 -11.5 L0 2 L-14 -11.5 Z M-14 -4 L0 9.5 L14 -4 L14 6.5 L0 20 L-14 6.5 Z" fill="#fff" transform="translate(683.0 341.0) rotate(6.0) scale(1.06)"/>
<path d="M-14 -22 L0 -8.5 L14 -22 L14 -11.5 L0 2 L-14 -11.5 Z M-14 -4 L0 9.5 L14 -4 L14 6.5 L0 20 L-14 6.5 Z" fill="#fff" transform="translate(653.5 432.5) rotate(30.0) scale(1.06)"/>
<path d="M-14 -22 L0 -8.5 L14 -22 L14 -11.5 L0 2 L-14 -11.5 Z M-14 -4 L0 9.5 L14 -4 L14 6.5 L0 20 L-14 6.5 Z" fill="#fff" transform="translate(588.0 510.5) rotate(50.5) scale(1.06)"/>
<path d="M-14 -22 L0 -8.5 L14 -22 L14 -11.5 L0 2 L-14 -11.5 Z M-14 -4 L0 9.5 L14 -4 L14 6.5 L0 20 L-14 6.5 Z" fill="#fff" transform="translate(488.5 564.5) rotate(68.5) scale(1.06)"/>
<g fill="#5a3c2a" text-anchor="middle">
<text transform="translate(609.6 566.0) rotate(-41.0)" x="0" y="11" font-size="30">3</text>
<text transform="translate(624.6 553.6) rotate(-41.0)" x="0" y="11" font-size="30">6</text>
<text transform="translate(639.2 541.6) rotate(-42.0)" x="0" y="11" font-size="30">0</text>
<text transform="translate(646.5 527.5) rotate(-44.0)" x="0" y="17" font-size="30">°</text>
<text transform="translate(662.6 519.0) rotate(-49.0)" x="0" y="9.1" font-size="24">顺</text>
<text transform="translate(677.8 500.0) rotate(-53.0)" x="0" y="9.1" font-size="24">滑</text>
<text transform="translate(692.9 479.5) rotate(-57.5)" x="0" y="9.1" font-size="24">移</text>
<text transform="translate(704.8 458.6) rotate(-62.0)" x="0" y="9.1" font-size="24">动</text>
</g>
<use href="#shelf"/>
<use href="#shelf" transform="translate(900.5 -364) scale(-1 1)"/>
<rect x="407" y="681" width="1.1" height="110.5" fill="#dcc4b0"/>
<rect x="110.5" y="658" width="39.6" height="56" fill="url(#stemg)"/>
<circle cx="142.8" cy="749.5" r="48.0" fill="#ffffff"/>
<path d="M93.8 767.5 A52.2 52.2 0 1 1 191.8 767.5 L187.4 767.5 A48.0 48.0 0 1 0 98.2 767.5 Z" fill="#2b2b2b"/>
<circle cx="142.8" cy="749.5" r="46.8" fill="url(#wheelg)"/>
<rect x="478.2" y="658" width="39.6" height="56" fill="url(#stemg)"/>
<circle cx="510.5" cy="749.5" r="48.0" fill="#ffffff"/>
<path d="M461.5 767.5 A52.2 52.2 0 1 1 559.5 767.5 L555.1 767.5 A48.0 48.0 0 1 0 465.9 767.5 Z" fill="#2b2b2b"/>
<circle cx="510.5" cy="749.5" r="46.8" fill="url(#wheelg)"/>
<path d="M176 709.5 L192.8 691.3" stroke="#2b2b2b" stroke-width="4.6" fill="none"/>
<path d="M558.5 741.8 L580.5 753.2" stroke="#2b2b2b" stroke-width="4.6" fill="none"/>
<path d="M190.5 704.0 L188.9 715.8 L192.6 713.7 L201.0 728.4 L206.0 725.6 L197.7 710.8 L201.4 708.7 Z" fill="url(#arr1)"/>
<path d="M577.0 739.8 L577.8 727.9 L574.2 730.3 L563.9 714.4 L559.1 717.6 L569.4 733.4 L565.8 735.8 Z" fill="url(#arr2)"/>
<path d="M87.0 760.6 A67.3 24.0 0 0 0 99.0 792.2" stroke="url(#mg0l)" stroke-width="2.3" fill="none"/>
<path d="M76.0 764.6 A74.3 26.0 0 0 0 80.8 790.3" stroke="url(#mg1l)" stroke-width="2.1" fill="none"/>
<path d="M198.6 760.6 A67.3 24.0 0 0 1 186.6 792.2" stroke="url(#mg0r)" stroke-width="2.3" fill="none"/>
<path d="M209.6 764.6 A74.3 26.0 0 0 1 204.8 790.3" stroke="url(#mg1r)" stroke-width="2.1" fill="none"/>
<text x="245" y="716" font-size="24" font-weight="bold" letter-spacing="1.2" fill="#222222">向上拨动</text>
<text x="618.2" y="716" font-size="24" font-weight="bold" letter-spacing="1.2" fill="#222222">向下拨动</text>
<rect x="222.4" y="730" width="147.4" height="36" rx="18" fill="#bd734d"/>
<rect x="595.3" y="730" width="147.4" height="36" rx="18" fill="#bd734d"/>
<text x="252" y="755.8" font-size="20.5" font-weight="500" letter-spacing="1.1" fill="#ffffff">自由滚动</text>
<text x="624.5" y="755.8" font-size="20.5" font-weight="500" letter-spacing="1.1" fill="#ffffff">静置一隅</text>
</svg>
</body></html>
